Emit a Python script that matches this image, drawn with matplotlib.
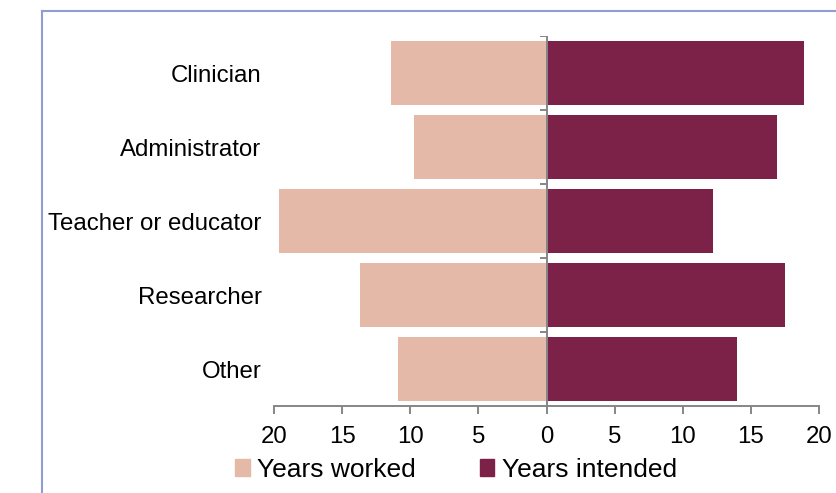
import matplotlib
matplotlib.use('Agg')
import matplotlib.pyplot as plt
from matplotlib.patches import Patch
from matplotlib.lines import Line2D
import numpy as np

roles = ['Clinician', 'Administrator', 'Teacher or educator', 'Researcher', 'Other']
years_worked = [11.4, 9.7, 19.6, 13.7, 10.9]
years_intended = [18.9, 16.9, 12.2, 17.5, 14.0]
xticks = [-20, -15, -10, -5, 0, 5, 10, 15, 20]

c_worked = '#e4b9a8'
c_intended = '#7c2249'
gray = '#868686'

plt.rcParams['font.family'] = ['Liberation Sans', 'DejaVu Sans']

fig = plt.figure(figsize=(8.37, 4.93), dpi=100)
ax = fig.add_axes([274/837, 1-406/493, 545/837, 370/493])

y = np.arange(len(roles))
ax.barh(y, -np.array(years_worked), height=0.865, color=c_worked, label='Years worked')
ax.barh(y, years_intended, height=0.865, color=c_intended, label='Years intended')

ax.set_xlim(-20, 20)
ax.set_ylim(len(roles)-0.5, -0.5)
ax.set_xticks(xticks, [str(abs(t)) for t in xticks])
ax.set_yticks(y, roles)

for s in ['left', 'right', 'top']:
    ax.spines[s].set_visible(False)
ax.spines['bottom'].set_color(gray)
ax.spines['bottom'].set_linewidth(1.4)
ax.tick_params(axis='x', colors=gray, length=5.8, width=1.4, pad=8.5, labelsize=17.3, labelcolor='black')
ax.tick_params(axis='y', length=0, pad=9, labelsize=17.3)

# zero axis with tick marks at category boundaries
ax.axvline(0, color=gray, lw=1.4, zorder=3)
bounds = np.arange(len(roles)+1) - 0.5
ax.hlines(bounds, -0.45, 0, color=gray, lw=1.4, zorder=3)

handles = [Patch(color=c_worked), Patch(color=c_intended)]
fig.legend(handles, ['Years worked', 'Years intended'], loc='upper left',
           bbox_to_anchor=(235/837, 1-458/493), ncol=2, frameon=False,
           fontsize=19, handlelength=0.55, handleheight=0.6, handletextpad=0.3,
           columnspacing=2.4, borderpad=0, borderaxespad=0)

# outer chart frame
frame_c = '#8e9fcf'
fig.add_artist(Line2D([42/837, 42/837], [0, 1-11/493], color=frame_c, lw=1.5))
fig.add_artist(Line2D([42/837, 1], [1-11/493, 1-11/493], color=frame_c, lw=1.5))

fig.savefig('out.png', dpi=100)
